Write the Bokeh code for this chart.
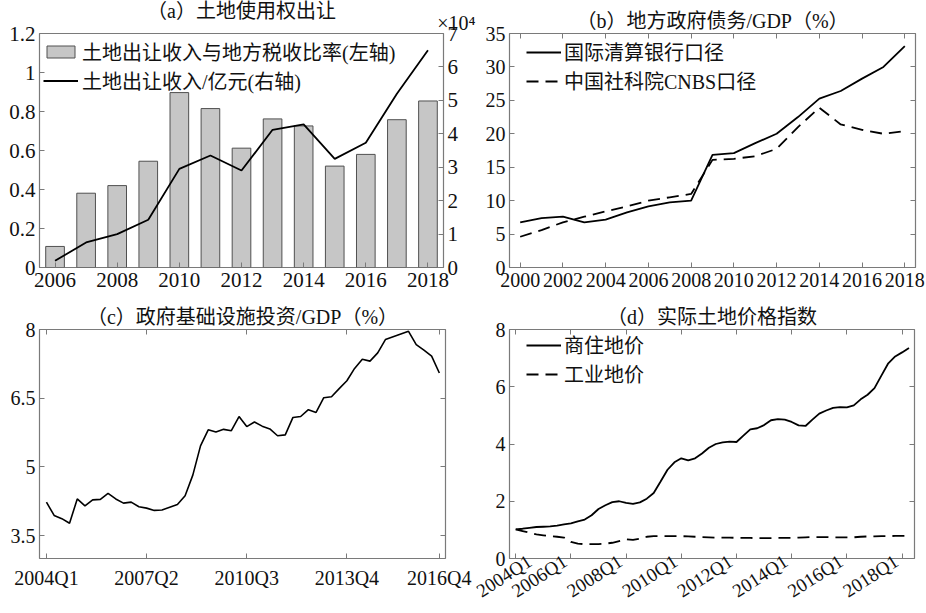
from bokeh.plotting import figure
from bokeh.models import (Range1d, LinearAxis, FixedTicker, Legend, LegendItem, Title,
                          CustomLabelingPolicy)
from bokeh.layouts import column, row
from bokeh.embed import file_html
from bokeh.resources import INLINE

FONT = "'Liberation Serif', 'Noto Sans CJK SC'"
FONT_LAT = "'Liberation Serif'"

# ---------------- data ----------------
# (a) land transfer
a_years = [2006, 2007, 2008, 2009, 2010, 2011, 2012, 2013, 2014, 2015, 2016, 2017, 2018]
a_ratio = [0.108, 0.381, 0.42, 0.545, 0.897, 0.815, 0.612, 0.762, 0.726, 0.52, 0.58, 0.758, 0.854]
a_income = [0.20, 0.75, 1.00, 1.43, 2.95, 3.35, 2.90, 4.12, 4.28, 3.25, 3.73, 5.20, 6.50]  # x10^4 亿元
a_left_ticks = [0, 0.2, 0.4, 0.6, 0.8, 1.0, 1.2]
a_left_labels = ["0", "0.2", "0.4", "0.6", "0.8", "1", "1.2"]
a_right_ticks = [0, 1, 2, 3, 4, 5, 6, 7]
a_x_ticks = [2006, 2008, 2010, 2012, 2014, 2016, 2018]
a_multiplier = "×10⁴"

# (b) local government debt / GDP
b_years = list(range(2000, 2019))
b_bis = [6.75, 7.4, 7.6, 6.75, 7.15, 8.25, 9.15, 9.75, 10.0, 16.85, 17.1, 18.6, 20.0,
         22.5, 25.25, 26.4, 28.25, 30.0, 33.1]
b_cnbs = [4.6, 5.6, 6.75, 7.6, 8.4, 9.15, 10.0, 10.5, 11.0, 16.1, 16.25, 16.65, 17.75,
          21.0, 23.9, 21.4, 20.6, 20.0, 20.4]
b_x_ticks = list(range(2000, 2019, 2))
b_y_ticks = [0, 5, 10, 15, 20, 25, 30, 35]

# (c) government infrastructure investment / GDP, 2004Q1..2016Q4
c_values = [4.23, 3.94, 3.87, 3.77, 4.30, 4.15, 4.28, 4.29, 4.42, 4.30,
            4.21, 4.23, 4.13, 4.10, 4.05, 4.06, 4.12, 4.18, 4.37, 4.82,
            5.46, 5.81, 5.76, 5.82, 5.79, 6.10, 5.88, 5.98, 5.89, 5.83,
            5.68, 5.70, 6.08, 6.10, 6.25, 6.19, 6.51, 6.53, 6.71, 6.88,
            7.15, 7.35, 7.31, 7.49, 7.78, 7.84, 7.90, 7.96, 7.67, 7.55,
            7.42, 7.05]
c_idx = list(range(len(c_values)))
c_x_ticks = [0, 13, 26, 39, 51]
c_x_labels = ["2004Q1", "2007Q2", "2010Q3", "2013Q4", "2016Q4"]
c_y_ticks = [3.5, 5, 6.5, 8]
c_y_labels = ["3.5", "5", "6.5", "8"]

# (d) real land price index, 2004Q1..2018Q2
d_resi = [1.02, 1.04, 1.07, 1.10, 1.11, 1.12, 1.15, 1.19, 1.23, 1.30,
          1.36, 1.51, 1.73, 1.86, 1.97, 2.00, 1.94, 1.91, 1.96, 2.09,
          2.29, 2.69, 3.10, 3.36, 3.50, 3.43, 3.50, 3.67, 3.87, 4.00,
          4.06, 4.08, 4.07, 4.29, 4.51, 4.55, 4.66, 4.83, 4.87, 4.85,
          4.77, 4.65, 4.63, 4.85, 5.06, 5.17, 5.26, 5.29, 5.28, 5.35,
          5.56, 5.72, 5.95, 6.39, 6.82, 7.06, 7.20, 7.35]
d_ind = [1.02, 0.96, 0.90, 0.84, 0.81, 0.78, 0.76, 0.73, 0.58, 0.52,
         0.50, 0.50, 0.50, 0.52, 0.55, 0.61, 0.67, 0.65, 0.69, 0.76,
         0.78, 0.78, 0.78, 0.78, 0.78, 0.77, 0.76, 0.75, 0.74, 0.73,
         0.73, 0.73, 0.72, 0.72, 0.72, 0.71, 0.71, 0.71, 0.72, 0.72,
         0.72, 0.73, 0.74, 0.75, 0.75, 0.75, 0.74, 0.74, 0.74, 0.74,
         0.76, 0.77, 0.77, 0.78, 0.78, 0.79, 0.79, 0.79]
d_idx = list(range(len(d_resi)))
d_x_ticks = [0, 8, 16, 24, 32, 40, 48, 56]
d_x_labels = ["2004Q1", "2006Q1", "2008Q1", "2010Q1", "2012Q1", "2014Q1", "2016Q1", "2018Q1"]
d_y_ticks = [0, 2, 4, 6, 8]
D_LABEL_SHIFT = -0.85   # slanted labels end just at their tick (kept inside the x range)

titles = ["（a）土地使用权出让", "（b）地方政府债务/GDP（%）",
          "（c）政府基础设施投资/GDP（%）", "（d）实际土地价格指数"]

FRAME = "#7a7a7a"
TXT = "#111111"
FS = "20px"

HIDE = CustomLabelingPolicy(code="for (const i of indices) indices.unset(i)")


def base_fig(title, w, h, l, r, t, b, xr, yr):
    p = figure(width=w, height=h, x_range=xr, y_range=yr, output_backend="svg",
               toolbar_location=None, min_border_left=l, min_border_right=r,
               min_border_top=t, min_border_bottom=b, x_axis_type=None, y_axis_type=None,
               title=None)
    if title is not None:
        p.title = Title(text=title, text_font=FONT, text_font_size=FS, text_font_style="normal",
                        text_color=TXT, align="center", standoff=3)
    p.outline_line_color = FRAME
    p.outline_line_width = 1.2
    p.xgrid.visible = False
    p.ygrid.visible = False
    p.background_fill_color = "white"
    p.border_fill_color = "white"
    return p


def style_axis(ax, ticks, overrides=None, show=True, standoff=4, orient=None, fs=FS):
    ax.ticker = FixedTicker(ticks=ticks)
    ax.axis_line_color = None
    ax.major_tick_in = 5
    ax.major_tick_out = 0
    ax.major_tick_line_color = FRAME
    ax.minor_tick_line_color = None
    ax.major_label_text_font = FONT_LAT
    ax.major_label_text_color = TXT
    ax.major_label_standoff = standoff
    if overrides:
        ax.major_label_overrides = overrides
    if orient is not None:
        ax.major_label_orientation = orient
    if show:
        ax.major_label_text_font_size = fs
    else:
        ax.major_label_text_font_size = "0px"
        ax.major_label_text_alpha = 0
        ax.major_label_standoff = 0
        ax.major_label_policy = HIDE


def legend_for(p, items, x, y, glyph_h=20, standoff=3):
    lg = Legend(items=items, location=(x, y), border_line_color=None,
                background_fill_alpha=0, padding=0, spacing=-5, margin=0,
                glyph_width=35, glyph_height=glyph_h, label_standoff=standoff,
                label_text_font=FONT, label_text_font_size=FS, label_text_color=TXT)
    p.add_layout(lg)


# ---------------- (a) ----------------
pa = base_fig(None, 478, 300, 39, 35, 33, 33, Range1d(2005.5, 2018.5), Range1d(0, 1.2))
pa.extra_y_ranges = {"right": Range1d(0, 7)}
bars = pa.vbar(x=a_years, top=a_ratio, width=0.6, fill_color="#c6c6c6", line_color="#505050", line_width=1)
ln_a = pa.line(a_years, a_income, y_range_name="right", line_color="black", line_width=1.8)
ax = LinearAxis(); style_axis(ax, a_x_ticks, standoff=5, fs="21px"); pa.add_layout(ax, "below")
ax = LinearAxis(); style_axis(ax, a_left_ticks, dict(zip(a_left_ticks, a_left_labels)), fs="21px"); pa.add_layout(ax, "left")
ax = LinearAxis(y_range_name="right"); style_axis(ax, a_right_ticks, fs="21px"); pa.add_layout(ax, "right")
pa.add_layout(Title(text=a_multiplier, text_font=FONT_LAT, text_font_size="20px", text_font_style="normal",
                    text_color=TXT, align="right", offset=-32, standoff=0), "above")
pa.add_layout(Title(text=titles[0], text_font=FONT, text_font_size=FS, text_font_style="normal",
                    text_color=TXT, align="center", standoff=-24), "above")
legend_for(pa, [LegendItem(label="土地出让收入与地方税收比率(左轴)", renderers=[bars]),
                LegendItem(label="土地出让收入/亿元(右轴)", renderers=[ln_a])], 4, 172, glyph_h=15, standoff=4)

# ---------------- (b) ----------------
pb = base_fig(titles[1], 448, 300, 31, 11, 33, 33, Range1d(1999.5, 2018.5), Range1d(0, 35))
l1 = pb.line(b_years, b_bis, line_color="black", line_width=1.8)
l2 = pb.line(b_years, b_cnbs, line_color="black", line_width=1.8, line_dash="12 7")
ax = LinearAxis(); style_axis(ax, b_x_ticks, standoff=5); pb.add_layout(ax, "below")
ax = LinearAxis(); style_axis(ax, b_y_ticks); pb.add_layout(ax, "left")
ax = LinearAxis(); style_axis(ax, b_x_ticks, show=False); pb.add_layout(ax, "above")
ax = LinearAxis(); style_axis(ax, b_y_ticks, show=False); pb.add_layout(ax, "right")
legend_for(pb, [LegendItem(label="国际清算银行口径", renderers=[l1]),
                LegendItem(label="中国社科院CNBS口径", renderers=[l2])], 17, 172)

# ---------------- (c) ----------------
pc = base_fig(titles[2], 472, 313, 39, 27, 29, 54, Range1d(-0.9, 51.8), Range1d(3, 8))
pc.line(c_idx, c_values, line_color="black", line_width=1.6)
ax = LinearAxis(); style_axis(ax, c_x_ticks, dict(zip(c_x_ticks, c_x_labels)), standoff=8); pc.add_layout(ax, "below")
ax = LinearAxis(); style_axis(ax, c_y_ticks, dict(zip(c_y_ticks, c_y_labels))); pc.add_layout(ax, "left")
ax = LinearAxis(); style_axis(ax, c_x_ticks, show=False); pc.add_layout(ax, "above")
ax = LinearAxis(); style_axis(ax, c_y_ticks, show=False); pc.add_layout(ax, "right")

# ---------------- (d) ----------------
pd_ = base_fig(titles[3], 454, 313, 37, 12, 29, 54, Range1d(-0.9, 57.8), Range1d(0, 8))
l3 = pd_.line(d_idx, d_resi, line_color="black", line_width=1.8)
l4 = pd_.line(d_idx, d_ind, line_color="black", line_width=1.8, line_dash="12 7")
ax = LinearAxis(); style_axis(ax, d_x_ticks, show=False); pd_.add_layout(ax, "below")
d_label_pos = [t + D_LABEL_SHIFT for t in d_x_ticks]
ax = LinearAxis(); style_axis(ax, d_label_pos, dict(zip(d_label_pos, d_x_labels)), standoff=1,
                              orient=0.57, fs="19px")
ax.major_tick_line_color = None
pd_.add_layout(ax, "below")
ax = LinearAxis(); style_axis(ax, d_y_ticks); pd_.add_layout(ax, "left")
ax = LinearAxis(); style_axis(ax, d_x_ticks, show=False); pd_.add_layout(ax, "above")
ax = LinearAxis(); style_axis(ax, d_y_ticks, show=False); pd_.add_layout(ax, "right")
legend_for(pd_, [LegendItem(label="商住地价", renderers=[l3]),
                 LegendItem(label="工业地价", renderers=[l4])], 17, 170)

layout = column(row(pa, pb), row(pc, pd_))
open("out.html", "w").write(file_html(layout, INLINE))
